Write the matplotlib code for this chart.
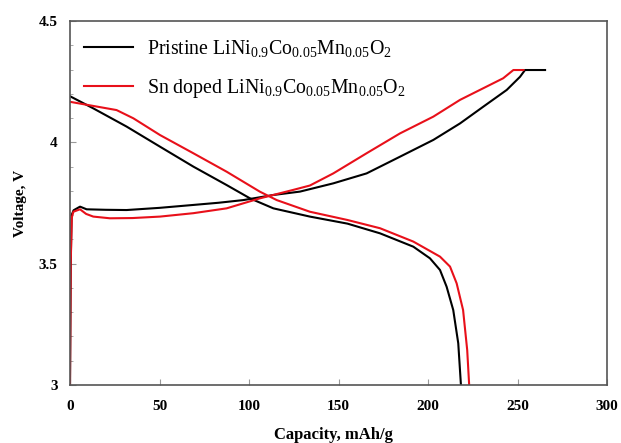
import numpy as np
import matplotlib
matplotlib.use("Agg")
import matplotlib.pyplot as plt
from matplotlib.ticker import MultipleLocator

plt.rcParams['font.family'] = 'Liberation Serif'
plt.rcParams['mathtext.fontset'] = 'custom'
plt.rcParams['mathtext.rm'] = 'Liberation Serif'
plt.rcParams['mathtext.it'] = 'Liberation Serif:italic'

# charge curves (capacity mAh/g, voltage V)
pristine_charge_cap = [0, 0.4, 0.9, 2, 5.6, 9.3, 20, 31.6, 50, 68.9, 83, 96.8, 113.6, 128.5, 147.1,
                       165.7, 184.4, 203, 217.9, 230.9, 244, 251.4, 254.2, 265.4]
pristine_charge_v = [3.0, 3.5, 3.70, 3.72, 3.735, 3.724, 3.722, 3.721, 3.73, 3.742, 3.751, 3.762, 3.783, 3.797, 3.831,
                     3.872, 3.941, 4.01, 4.078, 4.147, 4.216, 4.27, 4.298, 4.298]

doped_charge_cap = [0, 0.4, 1.0, 1.9, 5.6, 9, 13, 22.3, 35, 50.3, 68.9, 87.5, 106, 124.7, 134, 147.1,
                    165.7, 184.4, 203, 217.9, 230.9, 242, 247.7, 253.3]
doped_charge_v = [3.0, 3.5, 3.69, 3.714, 3.724, 3.705, 3.694, 3.687, 3.688, 3.694, 3.708, 3.728, 3.769, 3.804, 3.822, 3.872,
                  3.955, 4.037, 4.106, 4.175, 4.223, 4.264, 4.298, 4.298]

# discharge curves
pristine_dis_cap = [0, 13, 31.6, 50.3, 68.9, 87.5, 100.6, 113.6, 134, 155, 173.2, 191.8, 201.1, 206.7,
                    210.4, 214.1, 216.9, 218.4]
pristine_dis_v = [4.19, 4.14, 4.065, 3.982, 3.90, 3.824, 3.769, 3.728, 3.694, 3.665, 3.625, 3.570, 3.522, 3.474,
                  3.405, 3.309, 3.172, 3.0]

doped_dis_cap = [0, 13, 26, 35.4, 50.3, 68.9, 87.5, 106, 115.5, 134, 155, 173.2, 191.8, 206.7, 212.3,
                 216, 219.6, 221.9, 223]
doped_dis_v = [4.167, 4.15, 4.133, 4.099, 4.03, 3.955, 3.879, 3.797, 3.762, 3.714, 3.68, 3.646, 3.591, 3.529, 3.488,
               3.419, 3.309, 3.144, 3.0]

labels = [r'Pristine LiNi$_{\mathrm{0.9}}$Co$_{\mathrm{0.05}}$Mn$_{\mathrm{0.05}}$O$_{\mathrm{2}}$',
          r'Sn doped LiNi$_{\mathrm{0.9}}$Co$_{\mathrm{0.05}}$Mn$_{\mathrm{0.05}}$O$_{\mathrm{2}}$']

fig = plt.figure(figsize=(6.21, 4.43), dpi=100)
ax = fig.add_axes([70 / 621, 1 - 385 / 443, (607 - 70) / 621, (385 - 21) / 443])

ax.plot(pristine_charge_cap, pristine_charge_v, color='black', lw=1.5, label=labels[0])
ax.plot(pristine_dis_cap, pristine_dis_v, color='black', lw=1.5)
ax.plot(doped_charge_cap, doped_charge_v, color='#e8101a', lw=1.5, label=labels[1])
ax.plot(doped_dis_cap, doped_dis_v, color='#e8101a', lw=1.5)

ax.set_xlim(0, 300)
ax.set_ylim(3, 4.5)
ax.xaxis.set_major_locator(MultipleLocator(50))
ax.yaxis.set_minor_locator(MultipleLocator(0.1))
ax.set_yticks([3, 3.5, 4, 4.5])
ax.set_yticklabels(['3', '3.5', '4', '4.5'])
ax.tick_params(which='both', direction='in', labelsize=11, color='#999999')
ax.tick_params(which='major', length=4)
ax.tick_params(which='minor', length=2.5)
ax.tick_params(axis='x', pad=11)
ax.tick_params(axis='y', pad=9)
for lab in ax.get_xticklabels() + ax.get_yticklabels():
    lab.set_fontweight('bold')
for sp in ax.spines.values():
    sp.set_color('#555555')
    sp.set_linewidth(1.2)

ax.set_xlabel('Capacity, mAh/g', fontweight='bold', fontsize=12, labelpad=8)
ax.set_ylabel('Voltage, V', fontweight='bold', fontsize=11, labelpad=8)
ax.xaxis.set_label_coords(0.49, -0.115)

ax.legend(loc='upper left', frameon=False, fontsize=14.3, handlelength=2.45,
          labelspacing=0.9, handletextpad=0.7, borderaxespad=0.2, bbox_to_anchor=(0.004, 0.985))

fig.savefig('out.png', dpi=100)
